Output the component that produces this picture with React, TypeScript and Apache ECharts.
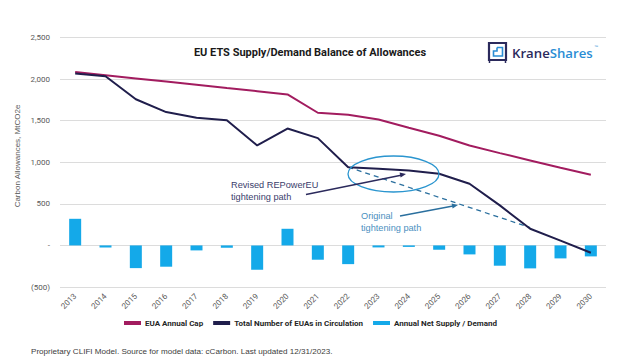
import React, { useEffect, useRef } from "react";
import * as echarts from "echarts";

const years = ["2013","2014","2015","2016","2017","2018","2019","2020","2021","2022","2023","2024","2025","2026","2027","2028","2029","2030"];
const euaCap = [2084, 2046, 2008, 1970, 1932, 1893, 1855, 1816, 1595, 1571, 1514, 1415, 1318, 1202, 1110, 1022, 934, 850];
const circulation = [2068, 2035, 1757, 1603, 1535, 1506, 1202, 1405, 1290, 941, 922, 901, 862, 741, 481, 200, 58, -88];
const netSupply = [320, -25, -273, -256, -60, -28, -292, 200, -172, -225, -24, -18, -52, -108, -244, -276, -156, -132];
const originalPath = [null, null, null, null, null, null, null, null, null, 941, null, null, null, null, null, 215, null, null];
const yTicks = { min: -500, max: 2500, interval: 500 };

const fmt = (v: number) => {
  if (v === 0) return "-";
  const s = Math.abs(v).toLocaleString("en-US");
  return v < 0 ? `(${s})` : s;
};

export default function App() {
  const ref = useRef<HTMLDivElement>(null);
  useEffect(() => {
    if (!ref.current) return;
    const chart = echarts.init(ref.current, null, { renderer: "svg" });
    const navy = "#201e4c";
    const cap = "#a21c5f";
    const bar = "#14a9e9";
    chart.setOption({
      animation: false,
      backgroundColor: "#ffffff",
      textStyle: { fontFamily: "Roboto, 'Noto Sans', sans-serif" },
      grid: { left: 60, right: 18, top: 37.5, bottom: 73, containLabel: false },
      xAxis: {
        type: "category",
        data: years,
        axisLine: { show: false, onZero: false },
        axisTick: { show: false },
        axisLabel: { rotate: 45, fontSize: 8, color: "#595959", margin: 8 },
      },
      yAxis: {
        type: "value",
        min: yTicks.min,
        max: yTicks.max,
        interval: yTicks.interval,
        axisLine: { show: false },
        axisTick: { show: false },
        axisLabel: { fontSize: 8, color: "#595959", formatter: fmt, margin: 10 },
        splitLine: { lineStyle: { color: "#dcdcdc", width: 1 } },
      },
      legend: {
        data: [
          { name: "EUA Annual Cap", icon: "rect", itemStyle: { color: cap } },
          { name: "Total Number of EUAs in Circulation", icon: "rect", itemStyle: { color: navy } },
          { name: "Annual Net Supply / Demand", icon: "rect", itemStyle: { color: bar } },
        ],
        left: 119,
        top: 314,
        itemWidth: 17,
        itemHeight: 4,
        itemGap: 10,
        textStyle: { fontSize: 8, fontWeight: "bold", color: "#262626", padding: [0, 0, 0, -1] },
      },
      series: [
        {
          name: "Annual Net Supply / Demand",
          type: "bar",
          data: netSupply,
          barWidth: 12,
          itemStyle: { color: bar },
          z: 1,
        },
        {
          name: "EUA Annual Cap",
          type: "line",
          data: euaCap,
          symbol: "none",
          lineStyle: { color: cap, width: 2 },
          itemStyle: { color: cap },
          z: 3,
        },
        {
          name: "Total Number of EUAs in Circulation",
          type: "line",
          data: circulation,
          symbol: "none",
          lineStyle: { color: navy, width: 2 },
          itemStyle: { color: navy },
          z: 4,
        },
        {
          name: "Original",
          type: "line",
          data: originalPath,
          connectNulls: true,
          symbol: "none",
          lineStyle: { color: "#2a6f9e", width: 1.3, type: [5, 4] },
          z: 2,
        },
      ],
      graphic: [
        {
          type: "text",
          x: 17,
          y: 156,
          rotation: Math.PI / 2,
          style: {
            text: "Carbon Allowances, MtCO2e",
            fontSize: 8,
            fill: "#595959",
            align: "center",
            verticalAlign: "middle",
          },
        },
        {
          type: "text",
          x: 310,
          y: 52,
          style: {
            text: "EU ETS Supply/Demand Balance of Allowances",
            fontSize: 11,
            fontWeight: "bold",
            fill: "#1a1a1a",
            align: "center",
            verticalAlign: "middle",
            fontFamily: "Roboto, sans-serif",
          },
        },
        // logo
        { type: "rect", shape: { x: 489, y: 43, width: 17, height: 17 }, style: { stroke: "#2b2a5c", lineWidth: 2.2, fill: "none" } },
        { type: "line", shape: { x1: 489.5, y1: 60, x2: 489.5, y2: 63 }, style: { stroke: "#2b2a5c", lineWidth: 1.5 } },
        { type: "line", shape: { x1: 505.5, y1: 60, x2: 505.5, y2: 63 }, style: { stroke: "#2b2a5c", lineWidth: 1.5 } },
        {
          type: "polyline",
          shape: { points: [[497, 47.5], [502.5, 47.5], [502.5, 56], [493.5, 56], [493.5, 51], [497, 51], [497, 47.5]] },
          style: { stroke: "#2a8dd4", lineWidth: 1.6, fill: "none" },
        },
        {
          type: "text",
          x: 512,
          y: 53,
          style: {
            text: "{a|Krane}{b|Shares}",
            verticalAlign: "middle",
            rich: {
              a: { fontSize: 13.2, fontWeight: 600, fill: "#2b2a5c", fontFamily: "'Open Sans', sans-serif" },
              b: { fontSize: 13.2, fontWeight: 600, fill: "#2a8dd4", fontFamily: "'Open Sans', sans-serif" },
            },
          },
        },
        { type: "text", x: 594, y: 44, style: { text: "™", fontSize: 4, fill: "#2a8dd4" } },
        // ellipse
        { type: "ellipse", shape: { cx: 393.5, cy: 174, rx: 45.5, ry: 18 }, style: { stroke: "#2a95cf", lineWidth: 1.3, fill: "none" }, z: 10 },
        // revised annotation
        {
          type: "text",
          x: 231,
          y: 191,
          style: { text: "Revised REPowerEU\ntightening path", fontSize: 9.2, lineHeight: 12.5, fill: "#3a3d6b", verticalAlign: "middle" },
        },
        { type: "line", shape: { x1: 306, y1: 194.5, x2: 401, y2: 175.2 }, style: { stroke: "#2b2a5c", lineWidth: 1.4 }, z: 10 },
        { type: "polygon", shape: { points: [[406, 174], [400.6, 177.6], [399.6, 172.6]] }, style: { fill: "#2b2a5c" }, z: 10 },
        // original annotation
        {
          type: "text",
          x: 361,
          y: 222,
          style: { text: "Original\ntightening path", fontSize: 9.2, lineHeight: 12, fill: "#4a8fc0", verticalAlign: "middle" },
        },
        { type: "line", shape: { x1: 400, y1: 216, x2: 453, y2: 206 }, style: { stroke: "#2a6f9e", lineWidth: 1.3 }, z: 10 },
        { type: "polygon", shape: { points: [[458, 205], [452.6, 208.6], [451.6, 203.6]] }, style: { fill: "#2a6f9e" }, z: 10 },
        // footer
        {
          type: "text",
          x: 31,
          y: 351,
          style: {
            text: "Proprietary CLIFI Model. Source for model data: cCarbon. Last updated 12/31/2023.",
            fontSize: 8.1,
            fill: "#3c3c3c",
            verticalAlign: "middle",
          },
        },
      ],
    });
    return () => chart.dispose();
  }, []);
  return <div ref={ref} style={{ width: 624, height: 360, position: "absolute", left: 0, top: 0 }} />;
}
